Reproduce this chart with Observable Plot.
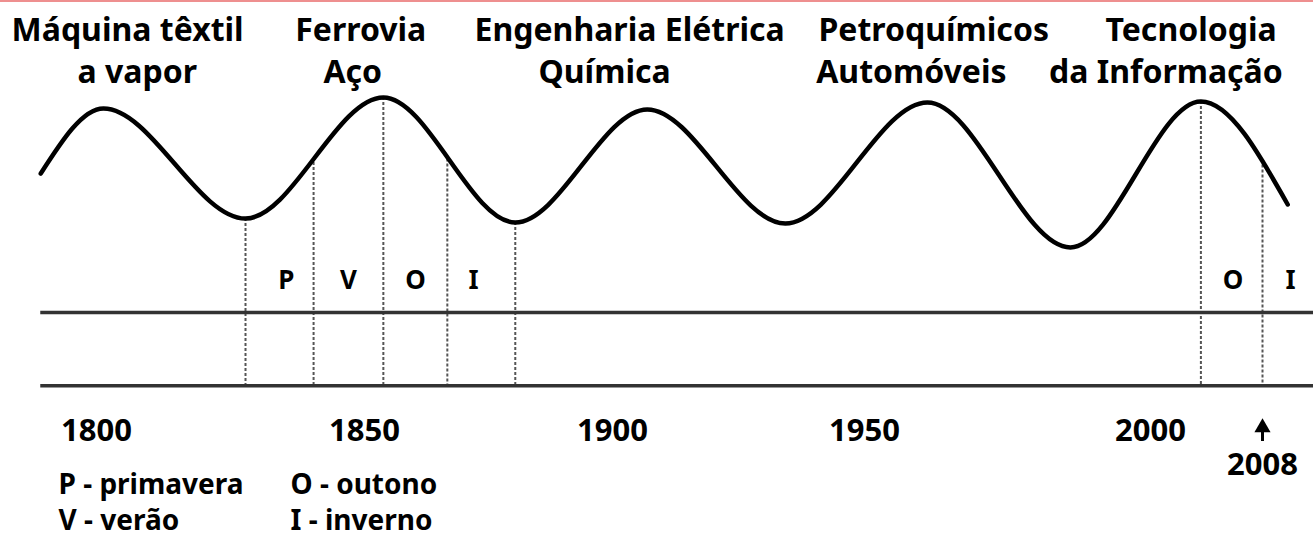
<!DOCTYPE html>
<html><head><meta charset="utf-8">
<script src="https://cdn.jsdelivr.net/npm/d3@7"></script>
<script src="https://cdn.jsdelivr.net/npm/@observablehq/plot@0.6"></script>
<style>
html,body{margin:0;padding:0;background:#fff;overflow:hidden;}
#chart{position:relative;}
#topline{position:absolute;left:0;top:0;width:1313px;height:2px;background:#ee8f8f;}
</style></head><body>
<div id="chart"><div id="topline"></div></div>
<script>
// ---- data ----
const waveYears  = [1789.6, 1801.3, 1827.8, 1853.8, 1880.4, 1906.9, 1934.3, 1961.0, 1986.0, 2003.6, 2009.8];
const waveValues = [40.8,   95,     3.3,    104.2,  0,      94.2,   -0.8,   100,    -20.8,  100.8,  15];
const phaseYears  = [1827.8, 1840.5, 1853.8, 1866.7, 1880.4, 2003.6, 2008];
const phaseLevels = [3.3,    50,     104.2,  53,     0,      100.8,  48];
const seasonLetters = ["P", "V", "O", "I", "O", "I"];
const seasonYears   = [1835.4, 1847, 1860.3, 1872, 2005.9, 2010];
const titlesTop     = ["Máquina têxtil", "Ferrovia", "Engenharia Elétrica", "Petroquímicos", "Tecnologia"];
const titlesTopYears = [1805.8, 1849.3, 1903.4, 1962.1, 2002.9];
const titlesBottom  = ["a vapor", "Aço", "Química", "Automóveis", "da Informação"];
const titlesBottomYears = [1807.6, 1847.8, 1898.4, 1958.2, 2001.1];
const timelineLevels = [-75, -136];
const seasonLevel = -55.8;
const yearTicks = [1800, 1850, 1900, 1950, 2000];
const markedYear = 2008;
const arrowSpan = [-171, -182.5];
const legendLeft  = ["P - primavera", "V - verão"];
const legendRight = ["O - outono", "I - inverno"];

const wave = waveYears.map((x, i) => ({x, y: waveValues[i]}));
const phases = phaseYears.map((x, i) => ({x, y: phaseLevels[i]}));
const seasons = seasonLetters.map((t, i) => ({t, x: seasonYears[i]}));
const tTop = titlesTop.map((t, i) => ({t, x: titlesTopYears[i]}));
const tBot = titlesBottom.map((t, i) => ({t, x: titlesBottomYears[i]}));

const chart = Plot.plot({
  width: 1313, height: 536, margin: 0,
  x: {type: "linear", domain: [1800, 1850, 1900, 1950, 2000, 2008], range: [96, 364, 612, 864, 1150, 1262], axis: null},
  y: {domain: [0, 100], range: [222, 102], axis: null},
  style: {fontFamily: "'Noto Sans', sans-serif", fontWeight: 700, color: "#000", background: "#fff"},
  marks: [
    Plot.ruleX(phases, {x: "x", y1: "y", y2: timelineLevels[1], stroke: "#555", strokeWidth: 2, strokeDasharray: "3,2"}),
    Plot.ruleY(timelineLevels, {x1: waveYears[0], x2: 2012, stroke: "#333", strokeWidth: 3.5}),
    Plot.line(wave, {x: "x", y: "y", curve: "monotone-x", stroke: "#000", strokeWidth: 4.5}),
    Plot.text(seasons, {x: "x", y: seasonLevel, text: "t", fontSize: 26, fontWeight: 700, lineAnchor: "bottom"}),
    Plot.text(tTop, {x: "x", text: "t", frameAnchor: "top", lineAnchor: "bottom", dy: 40, fontSize: 32, fontWeight: 700}),
    Plot.text(tBot, {x: "x", text: "t", frameAnchor: "top", lineAnchor: "bottom", dy: 82, fontSize: 32, fontWeight: 700}),
    Plot.text(yearTicks, {x: d => d, text: d => String(d), frameAnchor: "top", lineAnchor: "bottom", dy: 440, fontSize: 31, fontWeight: 700}),
    Plot.text([markedYear], {x: d => d, text: d => String(d), frameAnchor: "top", lineAnchor: "bottom", dy: 474, fontSize: 31, fontWeight: 700}),
    Plot.ruleX([markedYear], {y1: arrowSpan[0], y2: arrowSpan[1], stroke: "#000", strokeWidth: 3}),
    Plot.dot([markedYear], {x: d => d, y: arrowSpan[0], symbol: "triangle", r: 6, fill: "#000", stroke: "none"}),
    Plot.text([legendLeft.join("\n")], {frameAnchor: "top-left", textAnchor: "start", lineAnchor: "bottom", dx: 58, dy: 529, lineHeight: 36 / 28, fontSize: 28, fontWeight: 700}),
    Plot.text([legendRight.join("\n")], {frameAnchor: "top-left", textAnchor: "start", lineAnchor: "bottom", dx: 290, dy: 529, lineHeight: 36 / 28, fontSize: 28, fontWeight: 700})
  ]
});
document.getElementById("chart").prepend(chart);
</script>
</body></html>
